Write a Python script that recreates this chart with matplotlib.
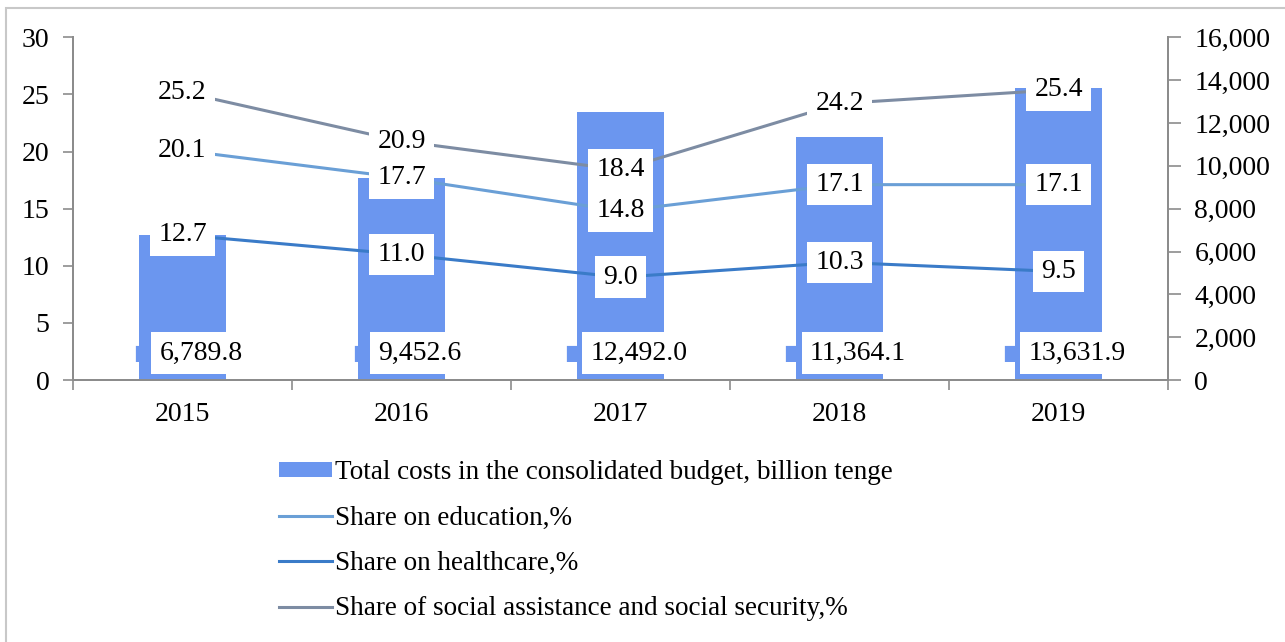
import matplotlib.pyplot as plt
from matplotlib.patches import Rectangle
from matplotlib.ticker import FuncFormatter, MultipleLocator
from matplotlib.transforms import blended_transform_factory

years = ["2015", "2016", "2017", "2018", "2019"]
total_costs = [6789.8, 9452.6, 12492.0, 11364.1, 13631.9]
education = [20.1, 17.7, 14.8, 17.1, 17.1]
healthcare = [12.7, 11.0, 9.0, 10.3, 9.5]
social = [25.2, 20.9, 18.4, 24.2, 25.4]

BAR = "#6b96ef"
EDU = "#6a9fd6"
HEALTH = "#3a7bc8"
SOCIAL = "#7d8ca3"
AXIS = "#8c8c8c"

plt.rcParams["font.family"] = ["Liberation Serif", "DejaVu Serif"]
FS = 20
LEG_FS = 19.5

fig = plt.figure(figsize=(12.85, 6.42), dpi=100)
ax = fig.add_axes([0.0568, 0.408, 0.8522, 0.534])
ax2 = ax.twinx()

x = list(range(len(years)))

# bars on the secondary (billion tenge) axis
ax2.bar(x, total_costs, width=0.4, color=BAR, zorder=1,
        label="Total costs in the consolidated budget, billion tenge")
ax2.set_ylim(0, 16000)
ax2.yaxis.set_major_locator(MultipleLocator(2000))
ax2.yaxis.set_major_formatter(FuncFormatter(lambda v, p: f"{v:,.0f}"))

# share lines on the primary (%) axis, drawn above the bars
ax.set_zorder(ax2.get_zorder() + 1)
ax.patch.set_visible(False)
series = [
    (education, EDU, "Share on education,%"),
    (healthcare, HEALTH, "Share on healthcare,%"),
    (social, SOCIAL, "Share of social assistance and social security,%"),
]
for vals, col, lab in series:
    ax.plot(x, vals, color=col, lw=2.2, label=lab, zorder=2)
    for xi, v in zip(x, vals):
        ax.text(xi, v, f"{v:.1f}", ha="center", va="center", fontsize=FS,
                zorder=4, bbox=dict(boxstyle="square,pad=0.3", fc="white", ec="none"))

# bar value labels sit near the base, with a small legend key on the left
trans = blended_transform_factory(ax2.transData, ax2.transAxes)
for xi, v in zip(x, total_costs):
    t = ax2.text(xi + 0.085, 0.078, f"{v:,.1f}", transform=trans, ha="center",
                 va="center", fontsize=FS, zorder=4,
                 bbox=dict(boxstyle="square,pad=0.3", fc="white", ec="none"))
    ax2.annotate("■", xy=(0, 0.5), xycoords=t, xytext=(-5, 0),
                 textcoords="offset points", ha="right", va="center",
                 fontsize=15, color=BAR, family="DejaVu Sans", zorder=3)

ax.set_xlim(-0.5, len(years) - 0.5)
ax.set_ylim(0, 30)
ax.yaxis.set_major_locator(MultipleLocator(5))

# category boundaries get the tick marks, centres get the labels
ax.set_xticks([i - 0.5 for i in range(len(years) + 1)])
ax.set_xticklabels([])
ax.set_xticks(x, minor=True)
ax.set_xticklabels(years, minor=True)
ax.tick_params(axis="x", which="major", length=7, color=AXIS, width=1.2)
ax.tick_params(axis="x", which="minor", length=0, labelsize=FS, pad=16)
ax.tick_params(axis="y", length=7, color=AXIS, width=1.2, labelsize=FS, pad=10)
ax2.tick_params(axis="y", length=9, color=AXIS, width=1.2, labelsize=FS, pad=10)

for a in (ax, ax2):
    a.spines["top"].set_visible(False)
    for s in ("left", "right", "bottom"):
        a.spines[s].set_color(AXIS)
        a.spines[s].set_linewidth(1.4)

h2, l2 = ax2.get_legend_handles_labels()
h1, l1 = ax.get_legend_handles_labels()
leg = fig.legend(h2 + h1, l2 + l1, loc="upper left", bbox_to_anchor=(0.209, 0.3),
                 frameon=False, fontsize=LEG_FS, handlelength=1.95, handleheight=0.5,
                 handletextpad=0.1, labelspacing=0.75, borderaxespad=0)

fig.patches.append(Rectangle((6 / 1285, -0.05), 1.1, 1.05 - 8 / 642, transform=fig.transFigure,
                             fill=False, ec="#c8c8c8", lw=1.5))

fig.savefig("out.png", dpi=100, facecolor="white")
